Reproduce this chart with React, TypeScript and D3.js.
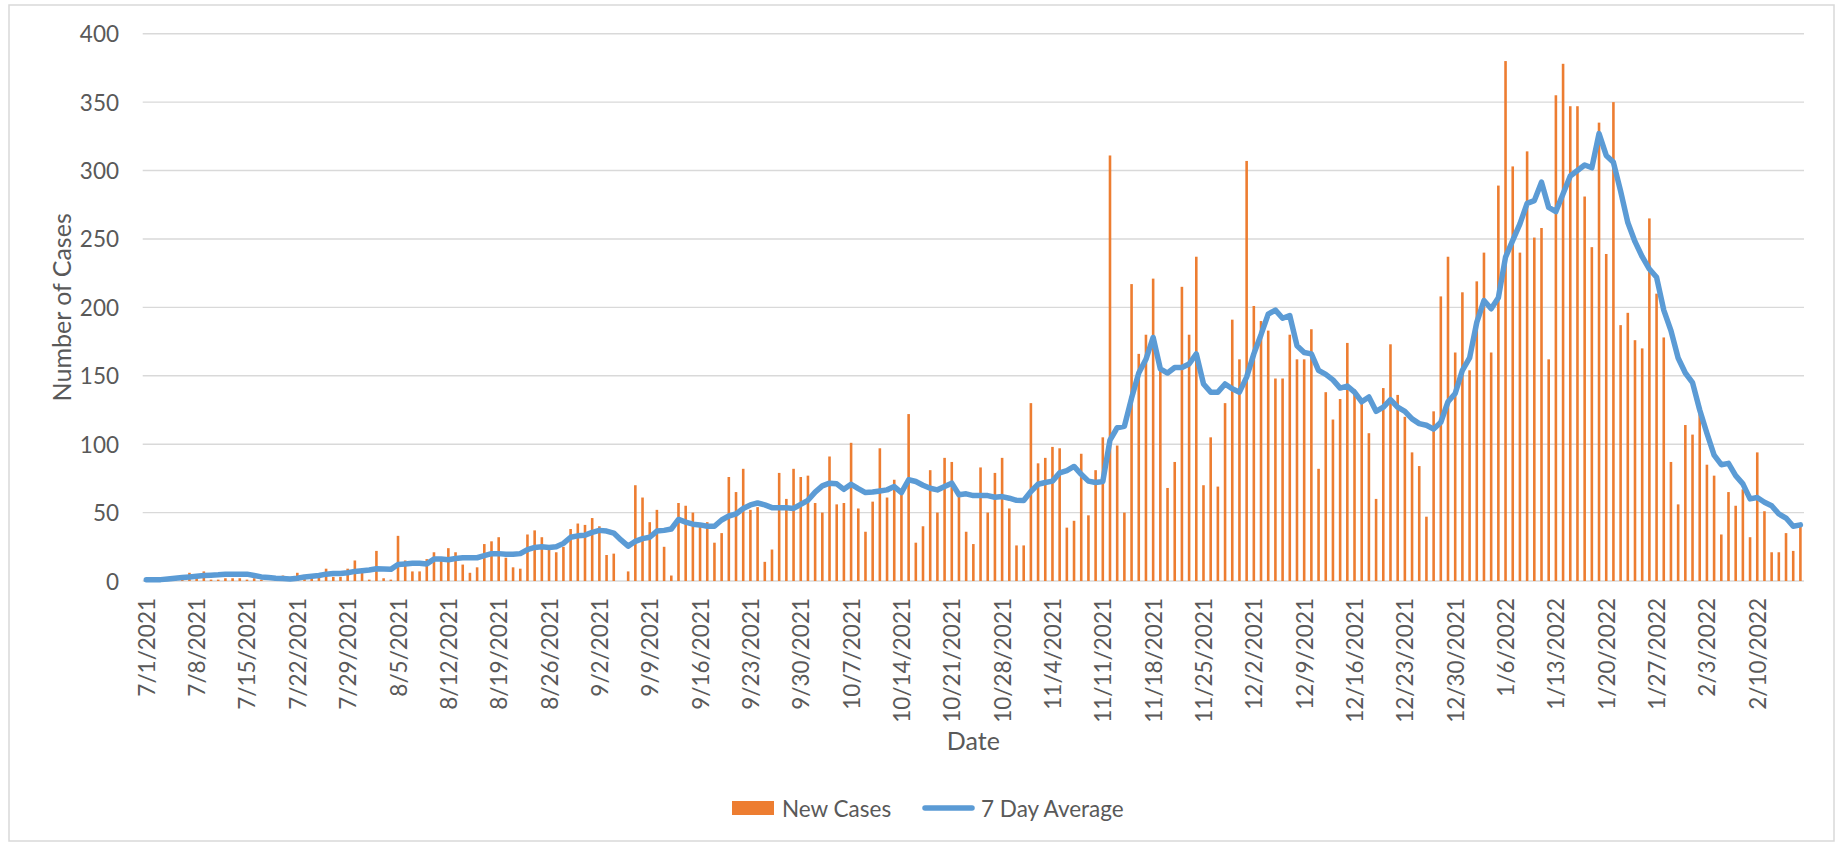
import React from 'react';
import * as d3 from 'd3';

// Categories: daily dates starting 7/1/2021
const startDate = new Date(2021, 6, 1);

const newCases: number[] = [
  2, 1, 1, 2, 1, 3, 6, 5, 7, 1,
  1, 2, 2, 2, 1, 2, 1, 0, 1, 4,
  1, 6, 3, 4, 3, 9, 3, 3, 9, 15,
  6, 1, 22, 2, 1, 33, 15, 7, 7, 16,
  21, 15, 24, 21, 12, 6, 10, 27, 29, 32,
  17, 10, 9, 34, 37, 32, 23, 21, 25, 38,
  42, 41, 46, 40, 19, 20, 0, 7, 70, 61,
  43, 52, 25, 4, 57, 55, 50, 40, 43, 28,
  35, 76, 65, 82, 52, 54, 14, 23, 79, 60,
  82, 76, 77, 57, 50, 91, 56, 57, 101, 53,
  36, 58, 97, 61, 74, 67, 122, 28, 40, 81,
  50, 90, 87, 64, 36, 27, 83, 50, 79, 90,
  53, 26, 26, 130, 86, 90, 98, 97, 39, 44,
  93, 48, 81, 105, 311, 99, 50, 217, 166, 180,
  221, 155, 68, 87, 215, 180, 237, 70, 105, 69,
  130, 191, 162, 307, 201, 190, 183, 148, 148, 180,
  162, 162, 184, 82, 138, 118, 133, 174, 140, 130,
  108, 60, 141, 173, 136, 120, 94, 84, 47, 124,
  208, 237, 167, 211, 154, 219, 240, 167, 289, 380,
  303, 240, 314, 251, 258, 162, 355, 378, 347, 347,
  281, 244, 335, 239, 350, 187, 196, 176, 170, 265,
  210, 178, 87, 56, 114, 107, 122, 85, 77, 34,
  65, 55, 67, 32, 94, 51, 21, 21, 35, 22,
  40,
];

const sevenDayAverage: number[] = [
  1, 1, 1, 1.5, 2, 2.5, 3, 3.5, 4, 4.2,
  4.5, 5, 5, 5, 5, 4, 3, 2.5, 2, 1.8,
  1.5, 2, 3, 3.5, 4, 5, 5.5, 5.5, 6, 7,
  7.5, 8, 9, 8.8, 8.5, 12, 12.5, 13, 13, 12.5,
  16, 16, 15.5, 16.5, 17, 17, 17, 18.5, 20, 20,
  19.5, 19.5, 20, 23, 24.5, 25, 24.5, 25, 27.5, 32,
  33, 33.5, 35.5, 37, 36.5, 35, 30, 25.5, 29, 31,
  32, 36.5, 37, 38, 45, 43, 41.5, 41, 40, 40,
  44.6, 47.5, 49, 53, 55.6, 57, 55.6, 53.6, 53.6, 53.6,
  53, 56, 59, 65, 69.5, 71.5, 71, 67, 70.7, 67.5,
  64.6, 65, 65.8, 66.6, 69, 64.6, 74, 72.7, 70, 67.8,
  66.6, 69, 71.5, 63, 63.7, 62.4, 62.4, 62.4, 61.2, 61.7,
  60.5, 59, 58.8, 65.4, 70.7, 72, 73, 79, 80.7, 83.7,
  78, 73, 72, 72.7, 103, 112, 113, 133.7, 152, 162,
  178, 155, 152, 156, 156, 158.6, 166, 144, 138, 138,
  144, 140.5, 138, 149, 166, 180, 195, 198, 192, 194,
  172, 167, 166, 154, 151, 147, 141, 142.5, 138, 131,
  134.5, 124, 127, 132.5, 127, 124, 118.5, 115, 113.8, 111,
  116, 131, 137, 154, 163, 189, 205, 199, 207, 236.7,
  249, 261, 276, 278, 291.5, 273, 270, 283, 296, 300,
  304, 302, 327, 311, 306, 285, 262, 248, 237, 228,
  222, 198, 183, 163, 152, 145, 125, 108, 92, 85,
  86, 77, 71, 60, 61, 57.6, 55, 49, 46, 40,
  41,
];

const yTicks: number[] = [0, 50, 100, 150, 200, 250, 300, 350, 400];

const xTickLabels: string[] = [
  '7/1/2021', '7/8/2021', '7/15/2021', '7/22/2021', '7/29/2021',
  '8/5/2021', '8/12/2021', '8/19/2021', '8/26/2021', '9/2/2021',
  '9/9/2021', '9/16/2021', '9/23/2021', '9/30/2021', '10/7/2021',
  '10/14/2021', '10/21/2021', '10/28/2021', '11/4/2021', '11/11/2021',
  '11/18/2021', '11/25/2021', '12/2/2021', '12/9/2021', '12/16/2021',
  '12/23/2021', '12/30/2021', '1/6/2022', '1/13/2022', '1/20/2022',
  '1/27/2022', '2/3/2022', '2/10/2022',
];

const FONT = "Lato, 'Open Sans', sans-serif";
const TEXT = '#595959';
const GRID = '#d9d9d9';
const ORANGE = '#ED7D31';
const BLUE = '#5B9BD5';

export default function App() {
  const W = 1837;
  const H = 844;
  const left = 142.7;
  const right = 1804;
  const top = 33.7;
  const bottom = 581;
  const tickFont = 22.5;
  const titleFont = 25;
  const legendFont = 22.5;

  const dates = newCases.map((_, i) => d3.timeDay.offset(startDate, i));
  const fmt = d3.timeFormat('%-m/%-d/%Y');
  const labelIndex = new Map<string, number>();
  dates.forEach((d, i) => labelIndex.set(fmt(d), i));

  const x = d3
    .scaleBand<number>()
    .domain(d3.range(newCases.length))
    .range([left, right])
    .paddingInner(0)
    .paddingOuter(0);
  const step = x.step();
  const barW = step * 0.36;
  const cx = (i: number) => (x(i) as number) + step / 2;

  const y = d3.scaleLinear().domain([0, 400]).range([bottom, top]);

  const line = d3
    .line<number>()
    .x((_, i) => cx(i))
    .y((d) => y(d))
    .curve(d3.curveLinear);

  return (
    <div style={{ position: 'absolute', left: 0, top: 0, width: W, height: H, background: '#fff' }}>
      <svg width={W} height={H} style={{ display: 'block', fontFamily: FONT }}>
        <rect x={9} y={5} width={1825} height={836} fill="#fff" stroke={GRID} strokeWidth={1.5} />
        {yTicks.map((t) => (
          <g key={t}>
            <line x1={left} x2={right} y1={y(t)} y2={y(t)} stroke={GRID} strokeWidth={1.4} />
            <text x={119} y={y(t)} textAnchor="end" dominantBaseline="central" fontSize={tickFont} fill={TEXT}>
              {t}
            </text>
          </g>
        ))}
        {newCases.map((v, i) => (
          <rect key={i} x={cx(i) - barW / 2} y={y(v)} width={barW} height={y(0) - y(v)} fill={ORANGE} />
        ))}
        <path
          d={line(sevenDayAverage) || ''}
          fill="none"
          stroke={BLUE}
          strokeWidth={5.5}
          strokeLinejoin="round"
          strokeLinecap="round"
        />
        {xTickLabels.map((lab) => {
          const i = labelIndex.get(lab) ?? 0;
          return (
            <text
              key={lab}
              transform={`translate(${cx(i)},${598}) rotate(-90)`}
              textAnchor="end"
              dominantBaseline="central"
              fontSize={tickFont}
              fill={TEXT}
            >
              {lab}
            </text>
          );
        })}
        <text x={(left + right) / 2} y={740} textAnchor="middle" dominantBaseline="central" fontSize={titleFont} fill={TEXT}>
          Date
        </text>
        <text
          transform={`translate(61,${(top + bottom) / 2}) rotate(-90)`}
          textAnchor="middle"
          dominantBaseline="central"
          fontSize={titleFont}
          fill={TEXT}
        >
          Number of Cases
        </text>
        <g>
          <rect x={732} y={801} width={42} height={14} fill={ORANGE} />
          <text x={782} y={808} dominantBaseline="central" fontSize={legendFont} fill={TEXT}>
            New Cases
          </text>
          <line x1={925} x2={972} y1={808} y2={808} stroke={BLUE} strokeWidth={5.5} strokeLinecap="round" />
          <text x={981} y={808} dominantBaseline="central" fontSize={legendFont} fill={TEXT}>
            7 Day Average
          </text>
        </g>
      </svg>
    </div>
  );
}
